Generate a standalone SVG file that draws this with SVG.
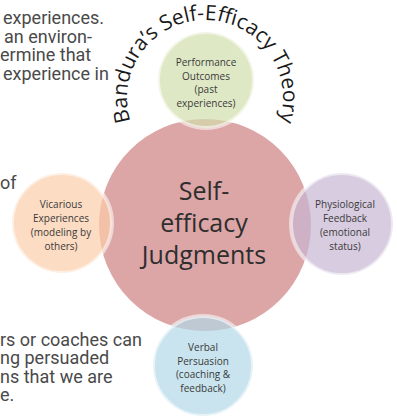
<svg xmlns="http://www.w3.org/2000/svg" width="397" height="417" viewBox="0 0 397 417">
<style>
.body{font-family:Roboto,"Liberation Sans",sans-serif;font-size:18px;fill:#4a4a4a}
.lbl{font-family:"Open Sans","Noto Sans",sans-serif;font-size:10px;fill:#3a3a3a;text-anchor:middle}
.big{font-family:"Open Sans","Noto Sans",sans-serif;font-size:25px;fill:#2e2e2e;text-anchor:middle}
.arc{font-family:"Open Sans","Noto Sans",sans-serif;font-size:21px;fill:#1a1a1a}
.small{fill-opacity:0.7;stroke:#ffffff;stroke-opacity:0.55;stroke-width:4}
</style>
<defs>
<path id="arcPath" d="M 205 176 A 78 78 0 1 1 205.01 176"/>
</defs>
<rect width="397" height="417" fill="#ffffff"/>
<g id="body-text" class="body">
<text x="3" y="24">experiences.</text>
<text x="4" y="43">an environ-</text>
<text x="0" y="61">ermine that</text>
<text x="3" y="80">experience in</text>
<text x="0" y="189">of</text>
<text x="0" y="346">rs or coaches can</text>
<text x="0" y="364">ng persuaded</text>
<text x="0" y="383">ns that we are</text>
<text x="0" y="401">e.</text>
</g>
<g id="connectors"></g>
<g id="title">
<text class="arc"><textPath href="#arcPath" startOffset="50%" text-anchor="middle">Bandura’s Self-Efficacy Theory</textPath></text>
</g>
<g id="self-efficacy">
<circle cx="205" cy="225" r="106" fill="#dca5a6"/>
<text class="big" x="204" y="200">Self-</text>
<text class="big" x="204" y="232">efficacy</text>
<text class="big" x="204" y="264">Judgments</text>
</g>
<g id="performance">
<circle class="small" cx="206" cy="80" r="48" fill="#d1dead"/>
<text class="lbl" x="206" y="66">Performance</text>
<text class="lbl" x="206" y="80">Outcomes</text>
<text class="lbl" x="206" y="93">(past</text>
<text class="lbl" x="206" y="107">experiences)</text>
</g>
<g id="vicarious">
<circle class="small" cx="62" cy="223" r="50" fill="#fbcda9"/>
<text class="lbl" x="61" y="208">Vicarious</text>
<text class="lbl" x="61" y="222">Experiences</text>
<text class="lbl" x="61" y="236">(modeling by</text>
<text class="lbl" x="61" y="250">others)</text>
</g>
<g id="physiological">
<circle class="small" cx="342" cy="224" r="51" fill="#c7b6d3"/>
<text class="lbl" x="345" y="208">Physiological</text>
<text class="lbl" x="345" y="222">Feedback</text>
<text class="lbl" x="345" y="236">(emotional</text>
<text class="lbl" x="345" y="250">status)</text>
</g>
<g id="verbal">
<circle class="small" cx="203" cy="366" r="50" fill="#b2d9e7"/>
<text class="lbl" x="203" y="351">Verbal</text>
<text class="lbl" x="203" y="365">Persuasion</text>
<text class="lbl" x="203" y="378">(coaching &amp;</text>
<text class="lbl" x="203" y="392">feedback)</text>
</g>
</svg>
